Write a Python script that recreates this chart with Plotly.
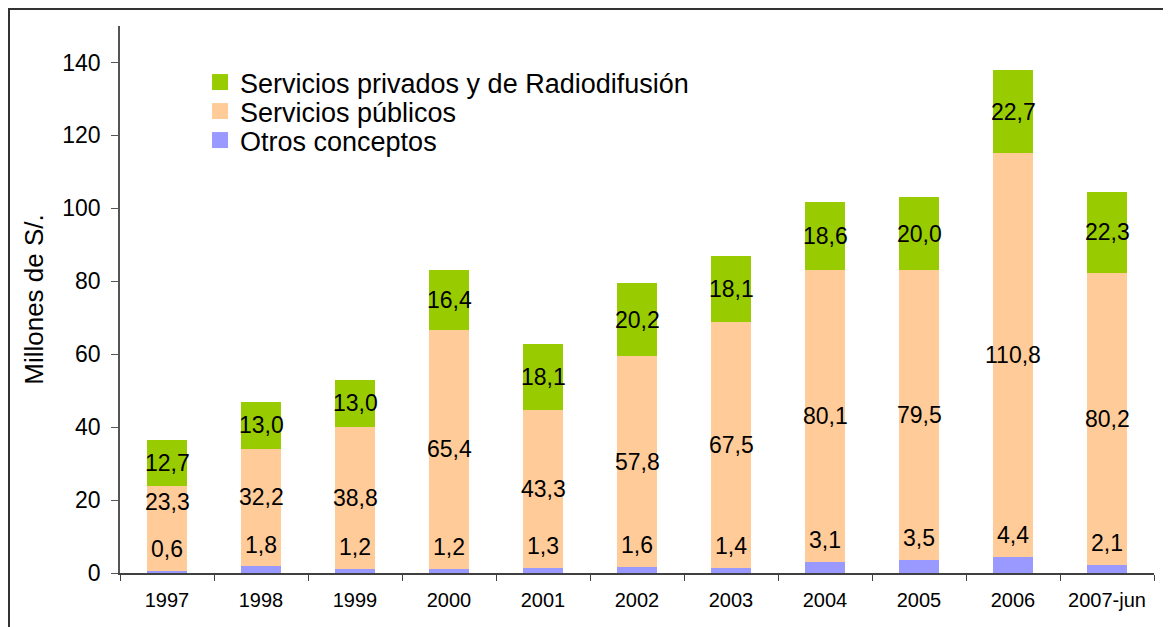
import plotly.graph_objects as go

categories = ["1997", "1998", "1999", "2000", "2001", "2002", "2003", "2004", "2005", "2006", "2007-jun"]
otros = [0.6, 1.8, 1.2, 1.2, 1.3, 1.6, 1.4, 3.1, 3.5, 4.4, 2.1]
publicos = [23.3, 32.2, 38.8, 65.4, 43.3, 57.8, 67.5, 80.1, 79.5, 110.8, 80.2]
privados = [12.7, 13.0, 13.0, 16.4, 18.1, 20.2, 18.1, 18.6, 20.0, 22.7, 22.3]

names = ["Otros conceptos", "Servicios públicos", "Servicios privados y de Radiodifusión"]
colors = ["#9999FF", "#FFCC99", "#99CC00"]
y_ticks = [0, 20, 40, 60, 80, 100, 120, 140]

FONT = "Liberation Sans, Arial, sans-serif"

W, H = 1163, 619
ML, MR, MT, MB = 112, 17, 18, 54
PW, PH = W - ML - MR, H - MT - MB


def fmt(v):
    return f"{v:.1f}".replace(".", ",")


fig = go.Figure()
for vals, name, col in zip([otros, publicos, privados], names, colors):
    fig.add_trace(go.Bar(x=categories, y=vals, name=name, marker=dict(color=col, line=dict(width=0)),
                         showlegend=False, hoverinfo="x+y+name"))

# legend entries: one legend per row (top row = last series), rows 29 px apart
legend_ids = ["legend3", "legend2", "legend"]
row_centers_px = [132.5, 103.5, 74.5]  # figure pixel y of each row centre
legend_layouts = {}
for name, col, lid, yc in zip(names, colors, legend_ids, row_centers_px):
    fig.add_trace(go.Scatter(x=[categories[0]], y=[None], mode="markers", name=name, legend=lid,
                             marker=dict(symbol="square", size=18, color=col), hoverinfo="skip"))
    legend_layouts[lid] = dict(x=0.0774, y=1 - (yc - MT) / PH, xanchor="left", yanchor="middle",
                               font=dict(family=FONT, size=27, color="#000000"),
                               bgcolor="rgba(0,0,0,0)", itemsizing="trace")

annotations = []
for i, c in enumerate(categories):
    o, p, g = otros[i], publicos[i], privados[i]
    yo = o + 6
    yp = max(o + p / 2, yo + 13)
    yg = o + p + g / 2
    for yy, v in [(yo, o), (yp, p), (yg, g)]:
        annotations.append(dict(x=i, y=yy, xref="x", yref="y", text=fmt(v), showarrow=False,
                                font=dict(family=FONT, size=23, color="#000000"),
                                xanchor="center", yanchor="middle"))

fig.update_layout(
    barmode="stack",
    bargap=0.575,
    width=W, height=H,
    margin=dict(l=ML, r=MR, t=MT, b=MB, autoexpand=False),
    paper_bgcolor="white", plot_bgcolor="white",
    font=dict(family=FONT, color="#000000"),
    annotations=annotations,
    shapes=[dict(type="rect", xref="paper", yref="paper",
                 x0=-(ML - 1) / PW, x1=1.3, y0=-0.3, y1=1 + (MT - 1) / PH,
                 line=dict(color="#333333", width=2), fillcolor="rgba(0,0,0,0)", layer="above")],
    **legend_layouts,
)

fig.update_xaxes(type="category", categoryorder="array", categoryarray=categories,
                 range=[-0.5, len(categories) - 0.5], tickangle=0,
                 showline=True, linecolor="#404040", linewidth=1.5,
                 ticks="outside", tickson="boundaries", ticklen=6, tickcolor="#404040", ticklabelstandoff=8,
                 tickfont=dict(family=FONT, size=20, color="#000000"), showgrid=False, zeroline=False)
fig.update_yaxes(range=[0, 150], tickvals=y_ticks, showline=True, linecolor="#555555", linewidth=1.5,
                 ticks="outside", ticklen=7, tickcolor="#555555", ticklabelstandoff=6,
                 tickfont=dict(family=FONT, size=23, color="#000000"), showgrid=False, zeroline=False,
                 title=dict(text="Millones de S/.", font=dict(family=FONT, size=26, color="#000000"), standoff=11))

fig.write_html("out.html")
